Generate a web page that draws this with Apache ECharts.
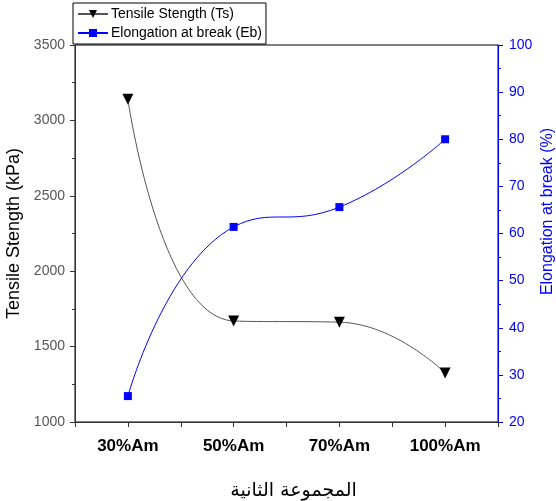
<!DOCTYPE html>
<html>
<head>
<meta charset="utf-8">
<script src="https://cdn.jsdelivr.net/npm/echarts@6/dist/echarts.min.js"></script>
<style>
  html, body { margin: 0; padding: 0; background: #fff; }
  #chart { width: 556px; height: 501px; }
</style>
</head>
<body>
<div id="chart"></div>
<script>
const categories = ['30%Am', '50%Am', '70%Am', '100%Am']
const tensile = [3140, 1670, 1662, 1325]
const elongation = [25.5, 61.4, 65.6, 80]

const toPoints = (vals) => vals.map((v, i) => [i + 1, v])

const chart = echarts.init(document.getElementById('chart'))
chart.setOption({
  animation: false,
  textStyle: { fontFamily: 'Arial, "Liberation Sans", sans-serif' },
  grid: {
    left: 75,
    right: 58,
    top: 45,
    bottom: 79,
    outerBoundsMode: 'none',
    containLabel: false,
    show: true,
    borderColor: '#000',
    borderWidth: 1
  },
  legend: {
    orient: 'vertical',
    left: 73,
    top: 3,
    padding: [4, 4, 4, 4],
    itemGap: 5,
    itemWidth: 30,
    itemHeight: 10,
    backgroundColor: '#fff',
    borderColor: '#000',
    borderWidth: 1,
    z: 10,
    textStyle: { fontSize: 14, color: '#000', padding: [0, 0, 0, -2] }
  },
  xAxis: {
    type: 'value',
    min: 0.5,
    max: 4.5,
    interval: 0.5,
    name: 'المجموعة الثانية',
    nameLocation: 'middle',
    nameGap: 60,
    nameTextStyle: {
      fontSize: 19,
      color: '#000',
      fontFamily: '"DejaVu Sans", sans-serif',
      padding: [0, 0, 0, 14]
    },
    splitLine: { show: false },
    axisLine: { lineStyle: { color: '#333' } },
    axisTick: { length: 5, lineStyle: { color: '#333' } },
    axisLabel: {
      fontSize: 17,
      fontWeight: 'bold',
      color: '#000',
      margin: 16,
      formatter: (v) => (Number.isInteger(v) ? categories[v - 1] : '')
    }
  },
  yAxis: [
    {
      type: 'value',
      position: 'left',
      min: 1000,
      max: 3500,
      interval: 500,
      name: 'Tensile Stength (kPa)',
      nameLocation: 'middle',
      nameGap: 44,
      nameTextStyle: { fontSize: 18, color: '#000' },
      splitLine: { show: false },
      axisLine: { show: true, lineStyle: { color: '#333' } },
      axisTick: { show: true, length: 5, lineStyle: { color: '#333' } },
      minorTick: { show: true, splitNumber: 2, length: 3, lineStyle: { color: '#333' } },
      axisLabel: { fontSize: 14, color: '#555', margin: 10, formatter: (v) => String(v) }
    },
    {
      type: 'value',
      position: 'right',
      min: 20,
      max: 100,
      interval: 10,
      name: 'Elongation at break (%)',
      nameLocation: 'middle',
      nameGap: 42,
      nameMoveOverlap: false,
      nameTextStyle: { fontSize: 16, color: '#0000ff', padding: [0, 0, 0, 44] },
      splitLine: { show: false },
      axisLine: { show: true, lineStyle: { color: '#0000ff' } },
      axisTick: { show: true, length: 5, lineStyle: { color: '#0000ff' } },
      minorTick: { show: true, splitNumber: 2, length: 3, lineStyle: { color: '#0000ff' } },
      axisLabel: { fontSize: 14, color: '#0000ff', margin: 11 }
    }
  ],
  series: [
    {
      name: 'Tensile Stength (Ts)',
      type: 'line',
      yAxisIndex: 0,
      data: toPoints(tensile),
      smooth: true,
      symbol: 'triangle',
      symbolRotate: 180,
      symbolSize: 11,
      itemStyle: { color: '#000' },
      lineStyle: { color: '#555', width: 1 }
    },
    {
      name: 'Elongation at break (Eb)',
      type: 'line',
      yAxisIndex: 1,
      data: toPoints(elongation),
      smooth: true,
      symbol: 'rect',
      symbolSize: 8,
      itemStyle: { color: '#0000ff' },
      lineStyle: { color: '#0000ff', width: 1 }
    }
  ]
})
</script>
</body>
</html>
